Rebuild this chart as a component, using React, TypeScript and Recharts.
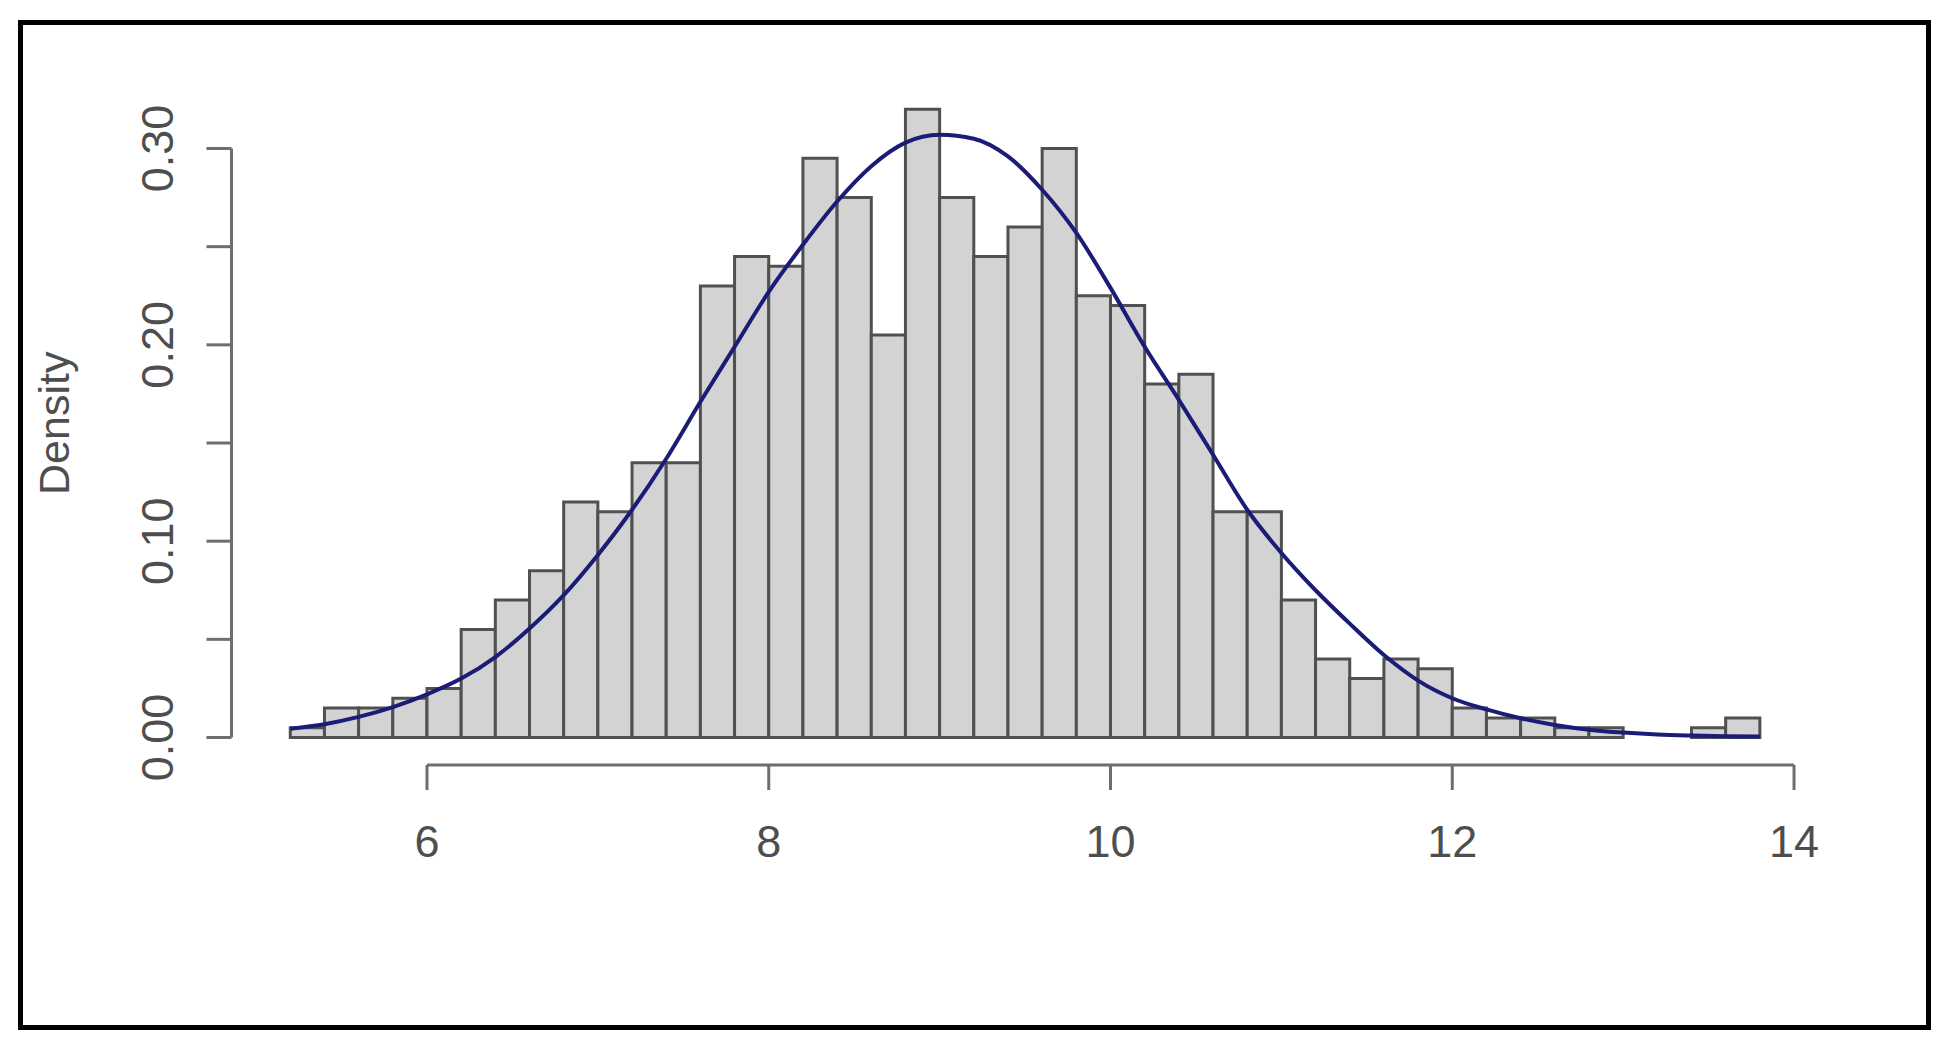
import React from 'react';
import { ComposedChart, Line, XAxis, YAxis, ReferenceArea, ReferenceLine } from 'recharts';

// histogram bins (left edges, width 0.2) and their density heights
const binLeft = [
  5.2, 5.4, 5.6, 5.8, 6.0, 6.2, 6.4, 6.6, 6.8, 7.0, 7.2, 7.4, 7.6, 7.8, 8.0,
  8.2, 8.4, 8.6, 8.8, 9.0, 9.2, 9.4, 9.6, 9.8, 10.0, 10.2, 10.4, 10.6, 10.8, 11.0,
  11.2, 11.4, 11.6, 11.8, 12.0, 12.2, 12.4, 12.6, 12.8, 13.0, 13.2, 13.4, 13.6,
];
const binDensity = [
  0.005, 0.015, 0.015, 0.02, 0.025, 0.055, 0.07, 0.085, 0.12, 0.115, 0.14, 0.14, 0.23, 0.245, 0.24,
  0.295, 0.275, 0.205, 0.32, 0.275, 0.245, 0.26, 0.3, 0.225, 0.22, 0.18, 0.185, 0.115, 0.115, 0.07,
  0.04, 0.03, 0.04, 0.035, 0.015, 0.01, 0.01, 0.005, 0.005, 0, 0, 0.005, 0.01,
];
const binWidth = 0.2;

// fitted density curve
const curveX = [
  5.2, 5.4, 5.6, 5.8, 6.0, 6.2, 6.4, 6.6, 6.8, 7.0, 7.2, 7.4, 7.6, 7.8, 8.0,
  8.2, 8.4, 8.6, 8.8, 9.0, 9.2, 9.4, 9.6, 9.8, 10.0, 10.2, 10.4, 10.6, 10.8, 11.0,
  11.2, 11.4, 11.6, 11.8, 12.0, 12.2, 12.4, 12.6, 12.8, 13.0, 13.2, 13.4, 13.6, 13.8,
];
const curveY = [
  0.0045, 0.0068, 0.0105, 0.0155, 0.022, 0.03, 0.041, 0.0555, 0.0725, 0.093, 0.116, 0.142, 0.171, 0.199, 0.227,
  0.251, 0.273, 0.291, 0.303, 0.307, 0.305, 0.296, 0.279, 0.257, 0.229, 0.199, 0.172, 0.144, 0.116, 0.094,
  0.075, 0.058, 0.042, 0.029, 0.02, 0.0143, 0.0098, 0.0064, 0.004, 0.0025, 0.0015, 0.001, 0.0007, 0.0005,
];

const xTicks = [6, 8, 10, 12, 14];
const yTicks = [0, 0.05, 0.1, 0.15, 0.2, 0.25, 0.3];

const curve = curveX.map((x, i) => ({ x, d: curveY[i] }));
const bins = binLeft
  .map((x, i) => ({ x1: x, x2: x + binWidth, d: binDensity[i] }))
  .filter((b) => b.d > 0);

const X_DOMAIN: [number, number] = [4.856, 14.2];
const Y_DOMAIN: [number, number] = [-0.014, 0.33];

const FONT = '"Liberation Sans", Arial, sans-serif';
const TEXT = '#4e4e4e';
const AXIS = '#6e6e6e';

function XTick(props: any) {
  const { x, y, payload } = props;
  return (
    <text x={x} y={y + 65} textAnchor="middle" fill={TEXT} fontSize={45} fontFamily={FONT}>
      {payload.value}
    </text>
  );
}

function YTick(props: any) {
  const { x, y, payload } = props;
  const v = payload.value as number;
  if (Math.round(v * 100) % 10 !== 0) return <g />;
  return (
    <text
      transform={`translate(${x - 32},${y}) rotate(-90)`}
      textAnchor="middle"
      fill={TEXT}
      fontSize={45}
      fontFamily={FONT}
    >
      {v.toFixed(2)}
    </text>
  );
}

function DensityLabel(props: any) {
  const vb = props.viewBox || { x: 111.5, y: 89.6, width: 120, height: 675 };
  const cx = vb.x - 43;
  const cy = vb.y + vb.height / 2 - 4;
  return (
    <text
      transform={`translate(${cx},${cy}) rotate(-90)`}
      textAnchor="middle"
      fill={TEXT}
      fontSize={43}
      fontFamily={FONT}
    >
      Density
    </text>
  );
}

export default function App() {
  return (
    <div style={{ position: 'absolute', left: 0, top: 0, width: 1954, height: 1050, background: '#fff' }}>
      <div
        style={{
          position: 'absolute',
          left: 18,
          top: 20,
          width: 1913,
          height: 1010,
          border: '5px solid #000',
          boxSizing: 'border-box',
        }}
      />
      <div style={{ position: 'absolute', left: 0, top: 0 }}>
        <ComposedChart
          width={1954}
          height={1050}
          data={curve}
          margin={{ top: 89.6, right: 125.8, bottom: 185, left: 111.5 }}
        >
          <XAxis
            dataKey="x"
            type="number"
            domain={X_DOMAIN}
            allowDataOverflow
            ticks={xTicks}
            height={100}
            axisLine={false}
            tickSize={25}
            tickLine={{ stroke: AXIS, strokeWidth: 3 }}
            tick={<XTick />}
          />
          <YAxis
            type="number"
            domain={Y_DOMAIN}
            allowDataOverflow
            ticks={yTicks}
            width={120}
            axisLine={false}
            tickSize={25}
            tickLine={{ stroke: AXIS, strokeWidth: 3 }}
            tick={<YTick />}
            label={{ value: 'Density', content: <DensityLabel /> }}
          />
          {bins.map((b) => (
            <ReferenceArea
              key={b.x1}
              x1={b.x1}
              x2={b.x2}
              y1={0}
              y2={b.d}
              fill="#d3d3d3"
              fillOpacity={1}
              stroke="#505050"
              strokeWidth={3}
              ifOverflow="visible"
            />
          ))}
          <ReferenceLine
            segment={[{ x: 6, y: Y_DOMAIN[0] }, { x: 14, y: Y_DOMAIN[0] }]}
            stroke={AXIS}
            strokeWidth={3}
            ifOverflow="visible"
          />
          <ReferenceLine
            segment={[{ x: X_DOMAIN[0], y: 0 }, { x: X_DOMAIN[0], y: 0.3 }]}
            stroke={AXIS}
            strokeWidth={3}
            ifOverflow="visible"
          />
          <Line
            dataKey="d"
            type="monotone"
            stroke="#1b1b78"
            strokeWidth={4}
            dot={false}
            activeDot={false}
            isAnimationActive={false}
          />
        </ComposedChart>
      </div>
    </div>
  );
}
